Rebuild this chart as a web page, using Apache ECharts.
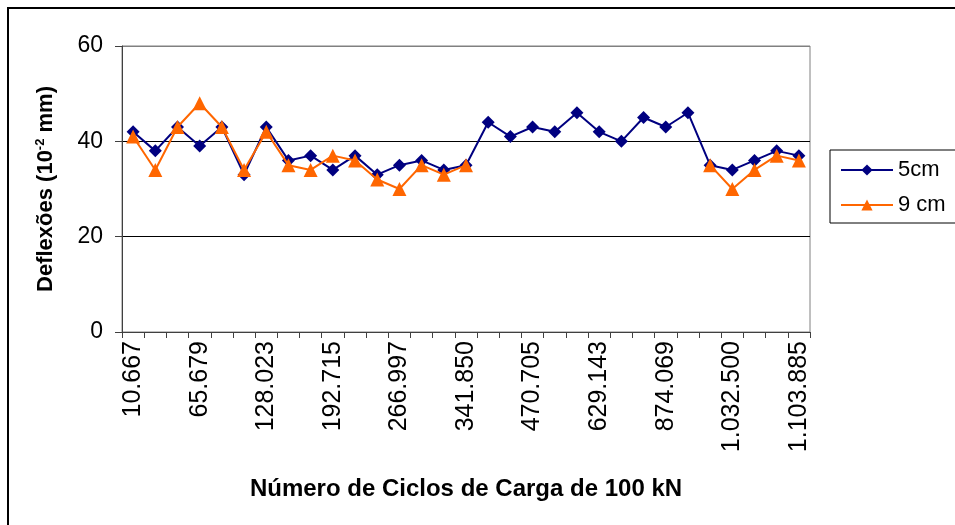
<!DOCTYPE html>
<html>
<head>
<meta charset="utf-8">
<script src="https://cdn.jsdelivr.net/npm/echarts@6/dist/echarts.min.js"></script>
<style>
  html, body { margin: 0; padding: 0; background: #fff; }
  #chart { width: 955px; height: 525px; }
</style>
</head>
<body>
<div id="chart"></div>
<script>
// load cycles (only every 3rd label is shown on the axis; the others are estimates)
const ciclos = [
  '10.667', '28.500', '46.200',
  '65.679', '86.300', '107.100',
  '128.023', '149.500', '171.000',
  '192.715', '217.400', '242.100',
  '266.997', '292.000', '317.000',
  '341.850', '384.800', '427.700',
  '470.705', '523.500', '576.300',
  '629.143', '710.800', '792.400',
  '874.069', '926.900', '979.700',
  '1.032.500', '1.056.300', '1.080.100',
  '1.103.885'
]
const deflexao5cm = [
  42, 38, 43, 39, 43, 33, 43, 36, 37, 34, 37, 33, 35, 36, 34, 35,
  44, 41, 43, 42, 46, 42, 40, 45, 43, 46, 35, 34, 36, 38, 37
]
const deflexao9cm = [
  41, 34, 43, 48, 43, 34, 42, 35, 34, 37, 36, 32, 30, 35, 33, 35,
  null, null, null, null, null, null, null, null, null, null,
  35, 30, 34, 37, 36
]
const yTicks = { min: 0, max: 60, interval: 20 }

const font = 'Liberation Sans, Arial, sans-serif'
const chart = echarts.init(document.getElementById('chart'), null, { renderer: 'canvas' })

chart.setOption({
  animation: false,
  backgroundColor: '#fff',
  textStyle: { fontFamily: font },
  graphic: [
    {
      type: 'rect',
      shape: { x: 8, y: 8, width: 1000, height: 600 },
      style: { fill: null, stroke: '#000', lineWidth: 2 },
      silent: true
    }
  ],
  grid: {
    left: 122,
    right: 145,
    top: 46,
    bottom: 193,
    show: true,
    borderColor: '#808080',
    borderWidth: 1
  },
  legend: {
    orient: 'vertical',
    left: 830,
    top: 150,
    borderColor: '#000',
    borderWidth: 1,
    padding: [9, 40, 7, 10],
    itemGap: 13,
    itemWidth: 52,
    itemHeight: 14,
    textStyle: { fontFamily: font, fontSize: 22, color: '#000' },
    data: ['5cm', '9 cm']
  },
  xAxis: {
    type: 'category',
    data: ciclos,
    boundaryGap: true,
    name: 'Número de Ciclos de Carga de 100 kN',
    nameLocation: 'middle',
    nameGap: 145,
    nameTextStyle: { fontFamily: font, fontSize: 24, fontWeight: 'bold', color: '#000' },
    axisLine: { lineStyle: { color: '#404040', width: 1 } },
    axisTick: { show: true, interval: 0, length: 6, lineStyle: { color: '#404040' } },
    axisLabel: {
      interval: 2,
      rotate: 90,
      margin: 9,
      fontFamily: font,
      fontSize: 25,
      color: '#000'
    },
    splitLine: { show: false }
  },
  yAxis: {
    type: 'value',
    min: yTicks.min,
    max: yTicks.max,
    interval: yTicks.interval,
    name: 'Deflexões (10{sup|-2} mm)',
    nameLocation: 'middle',
    nameRotate: 90,
    nameGap: 65,
    nameTextStyle: {
      fontFamily: font,
      fontSize: 22,
      fontWeight: 'bold',
      color: '#000',
      rich: {
        sup: {
          fontFamily: font,
          fontSize: 13,
          fontWeight: 'bold',
          color: '#000',
          padding: [0, 0, 10, 0]
        }
      }
    },
    axisLine: { show: true, lineStyle: { color: '#404040', width: 1 } },
    axisTick: { show: true, length: 7, lineStyle: { color: '#404040' } },
    axisLabel: { fontFamily: font, fontSize: 23, color: '#000', margin: 19 },
    splitLine: {
      show: true,
      lineStyle: { color: ['#000', '#000', '#000', '#808080'], width: 1 }
    }
  },
  series: [
    {
      name: '5cm',
      type: 'line',
      data: deflexao5cm,
      color: '#000080',
      symbol: 'diamond',
      symbolSize: 13,
      lineStyle: { color: '#000080', width: 2 },
      itemStyle: { color: '#000080' },
      z: 3
    },
    {
      name: '9 cm',
      type: 'line',
      data: deflexao9cm,
      color: '#FF6600',
      symbol: 'triangle',
      symbolSize: 14,
      connectNulls: false,
      lineStyle: { color: '#FF6600', width: 2 },
      itemStyle: { color: '#FF6600' },
      z: 4
    }
  ]
})
</script>
</body>
</html>
